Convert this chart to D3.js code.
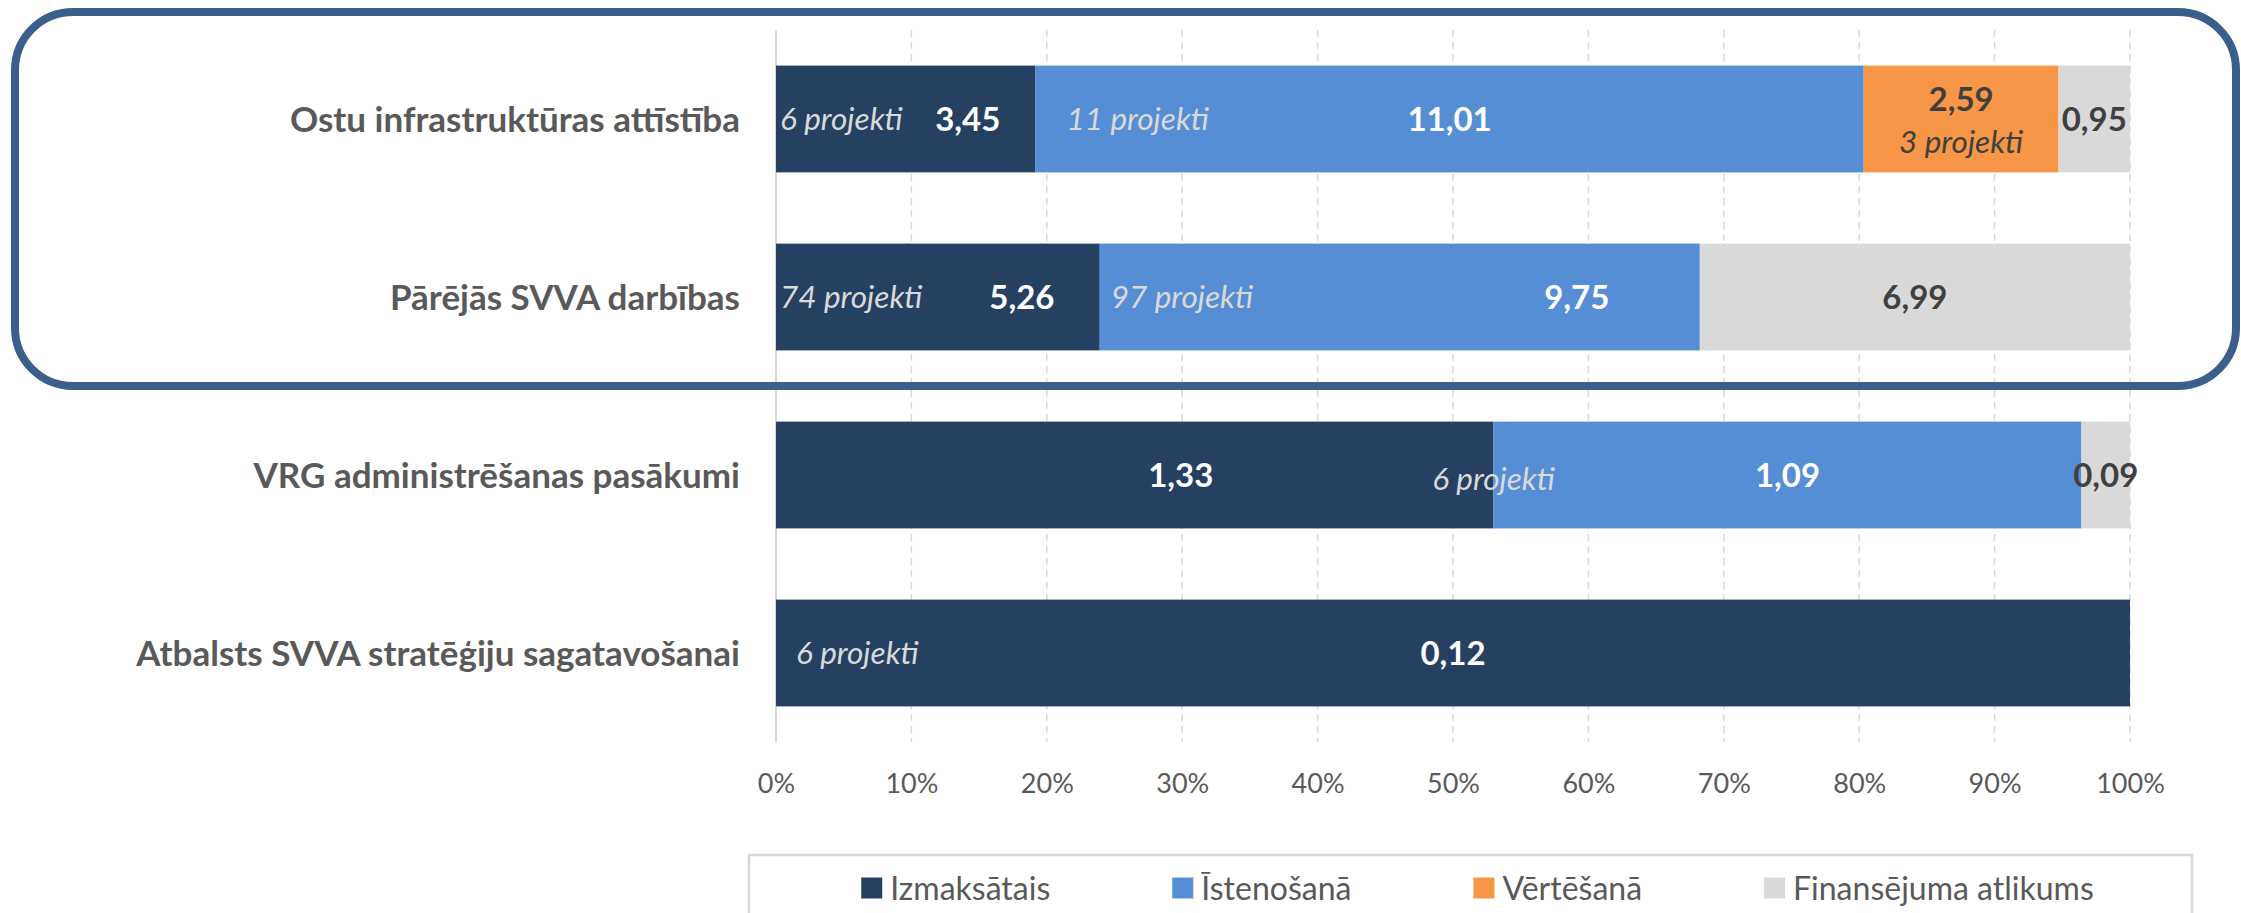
<!DOCTYPE html>
<html>
<head>
<meta charset="utf-8">
<script src="https://cdn.jsdelivr.net/npm/d3@7"></script>
<style>
  html, body { margin: 0; padding: 0; background: #ffffff; }
  svg { display: block; }
  text { font-family: Lato, "Open Sans", "Liberation Sans", sans-serif; }
</style>
</head>
<body>
<svg id="chart" width="2241" height="913"></svg>
<script>
// ---------- DATA ----------
const categories = [
  "Ostu infrastruktūras attīstība",
  "Pārējās SVVA darbības",
  "VRG administrēšanas pasākumi",
  "Atbalsts SVVA stratēģiju sagatavošanai"
];
const seriesNames = ["Izmaksātais", "Īstenošanā", "Vērtēšanā", "Finansējuma atlikums"];
const izmaksatais = [3.45, 5.26, 1.33, 0.12];
const istenosana  = [11.01, 9.75, 1.09, 0];
const vertesana   = [2.59, 0, 0, 0];
const atlikums    = [0.95, 6.99, 0.09, 0];
const projIzmaksatais = ["6 projekti", "74 projekti", "", "6 projekti"];
const projIstenosana  = ["11 projekti", "97 projekti", "6 projekti", ""];
const projVertesana   = ["3 projekti", "", "", ""];
const tickValues = [0, 0.1, 0.2, 0.3, 0.4, 0.5, 0.6, 0.7, 0.8, 0.9, 1.0];
const tickLabels = ["0%", "10%", "20%", "30%", "40%", "50%", "60%", "70%", "80%", "90%", "100%"];

// ---------- STYLE / LAYOUT ----------
const colors = ["#264062", "#558ED5", "#F79646", "#D9D9D9"];
const valueColors = ["#ffffff", "#ffffff", "#404040", "#404040"];
const projColors = ["#D9D9D9", "#D9D9D9", "#404040"];
const fmt = v => d3.format(".2f")(v).replace(".", ",");

// label nudges (pixels), keyed "row-series"
const valueNudgeX = { "0-0": 62, "1-0": 84, "1-1": 177, "2-0": 46 };
const valueNudgeY = { "0-2": -20 };
const projPlacement = {
  "0-0": { mode: "start", pad: 4 },
  "1-0": { mode: "start", pad: 4 },
  "3-0": { mode: "start", pad: 20 },
  "0-1": { mode: "start", pad: 31 },
  "1-1": { mode: "start", pad: 11 },
  "2-1": { mode: "boundary", dy: 4 },
  "0-2": { mode: "center", dy: 23 }
};

const svg = d3.select("#chart");
svg.append("rect").attr("width", 2241).attr("height", 913).attr("fill", "#fff");

const x = d3.scaleLinear().domain([0, 1]).range([776, 2130]);
const y = d3.scaleBand().domain(categories).range([30, 742]).paddingInner(0.4).paddingOuter(0.2);

// rows as percentages
const seriesArrays = [izmaksatais, istenosana, vertesana, atlikums];
const projArrays = [projIzmaksatais, projIstenosana, projVertesana];
const rows = categories.map((c, i) => {
  const vals = seriesArrays.map(a => a[i]);
  const total = d3.sum(vals);
  let acc = 0;
  const segs = vals.map((v, s) => {
    const seg = { row: i, s, v, x0: acc / total, x1: (acc + v) / total };
    acc += v;
    return seg;
  });
  return { cat: c, segs };
});

// gridlines
const grid = svg.append("g");
grid.selectAll("line.grid").data(tickValues.slice(1)).join("line")
  .attr("x1", d => x(d)).attr("x2", d => x(d))
  .attr("y1", 30).attr("y2", 742)
  .attr("stroke", "#D9D9D9").attr("stroke-width", 1.5)
  .attr("stroke-dasharray", "7,5");
// axis line at 0
grid.append("line")
  .attr("x1", x(0)).attr("x2", x(0)).attr("y1", 30).attr("y2", 742)
  .attr("stroke", "#D9D9D9").attr("stroke-width", 2);

// bars
const barG = svg.append("g");
rows.forEach(r => {
  barG.selectAll(null).data(r.segs.filter(d => d.v > 0)).join("rect")
    .attr("x", d => x(d.x0))
    .attr("y", y(r.cat))
    .attr("width", d => x(d.x1) - x(d.x0))
    .attr("height", y.bandwidth())
    .attr("fill", d => colors[d.s]);
});

// value labels
const labG = svg.append("g");
rows.forEach(r => {
  const cy = y(r.cat) + y.bandwidth() / 2;
  r.segs.filter(d => d.v > 0).forEach(d => {
    const key = d.row + "-" + d.s;
    labG.append("text")
      .attr("x", (x(d.x0) + x(d.x1)) / 2 + (valueNudgeX[key] || 0))
      .attr("y", cy + (valueNudgeY[key] || 0))
      .attr("dy", "0.36em")
      .attr("text-anchor", "middle")
      .attr("font-size", 33)
      .attr("font-weight", 700)
      .attr("fill", valueColors[d.s])
      .text(fmt(d.v));
  });
  // project labels
  projArrays.forEach((arr, s) => {
    const txt = arr[r.segs[0].row];
    if (!txt) return;
    const d = r.segs[s];
    const key = d.row + "-" + s;
    const p = projPlacement[key] || { mode: "start", pad: 4 };
    let px, anchor;
    if (p.mode === "start") { px = x(d.x0) + p.pad; anchor = "start"; }
    else if (p.mode === "boundary") { px = x(d.x0); anchor = "middle"; }
    else { px = (x(d.x0) + x(d.x1)) / 2; anchor = "middle"; }
    labG.append("text")
      .attr("x", px)
      .attr("y", cy + (p.dy || 0))
      .attr("dy", "0.36em")
      .attr("text-anchor", anchor)
      .attr("font-size", 31.5)
      .attr("font-style", "italic")
      .attr("fill", projColors[s])
      .text(txt);
  });
});

// category labels
svg.append("g").selectAll("text").data(categories).join("text")
  .attr("x", 740)
  .attr("y", d => y(d) + y.bandwidth() / 2)
  .attr("dy", "0.36em")
  .attr("text-anchor", "end")
  .attr("font-size", 35)
  .attr("font-weight", 700)
  .attr("fill", "#595959")
  .text(d => d);

// x axis tick labels
const xAxis = d3.axisBottom(x).tickValues(tickValues)
  .tickFormat((d, i) => tickLabels[i]).tickSize(0).tickPadding(0);
const axG = svg.append("g").attr("transform", "translate(0,783)").call(xAxis);
axG.select(".domain").remove();
axG.selectAll("text")
  .attr("y", 0).attr("dy", "0.36em")
  .attr("font-size", 27)
  .attr("font-family", "Lato, 'Open Sans', sans-serif")
  .attr("fill", "#595959");

// legend
const legBox = { x: 749, y: 855, w: 1443, h: 120 };
svg.append("rect").attr("x", legBox.x).attr("y", legBox.y)
  .attr("width", legBox.w).attr("height", legBox.h)
  .attr("fill", "#fff").attr("stroke", "#D9D9D9").attr("stroke-width", 2.5);
const legG = svg.append("g");
const items = seriesNames.map((n, i) => {
  const g = legG.append("g");
  g.append("rect").attr("width", 21).attr("height", 21).attr("y", -10.5).attr("fill", colors[i]);
  const t = g.append("text").attr("x", 29).attr("dy", "0.36em")
    .attr("font-size", 32).attr("fill", "#595959").text(n);
  return { g, w: 29 + t.node().getComputedTextLength() };
});
const gap = 122;
const totalW = d3.sum(items, d => d.w) + gap * (items.length - 1);
let cx = legBox.x + legBox.w / 2 + 7 - totalW / 2;
items.forEach(it => {
  it.g.attr("transform", `translate(${cx},888)`);
  cx += it.w + gap;
});

// highlight rounded frame
svg.append("rect")
  .attr("x", 15).attr("y", 12).attr("width", 2221).attr("height", 374)
  .attr("rx", 58).attr("ry", 58)
  .attr("fill", "none").attr("stroke", "#3A5F8B").attr("stroke-width", 8);
</script>
</body>
</html>
